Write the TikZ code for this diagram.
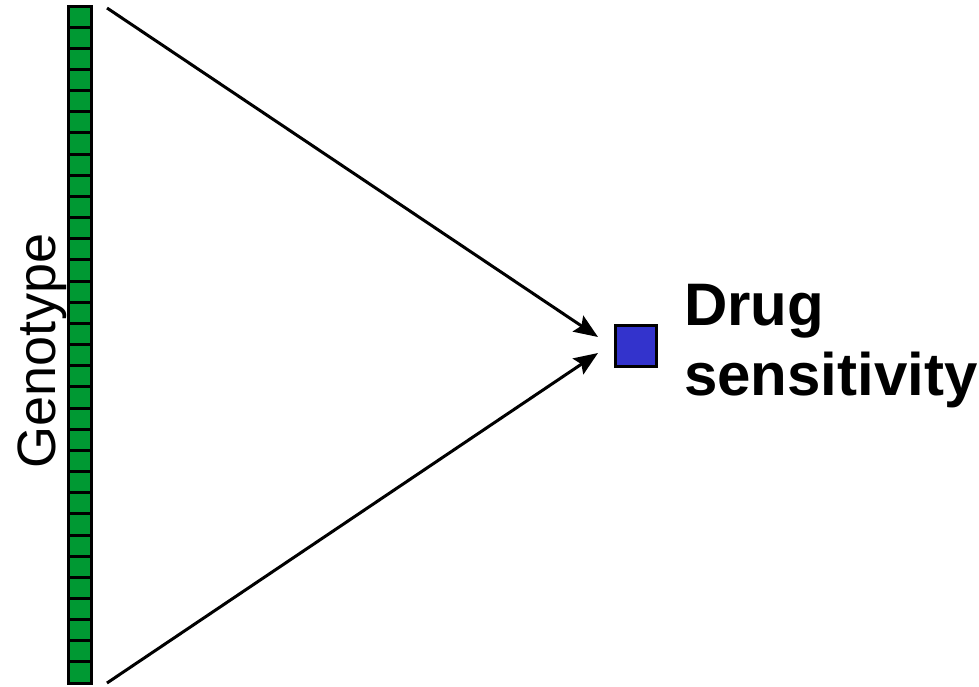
\documentclass[tikz,border=0pt]{standalone}
\usepackage{fontspec}
\setmainfont{Liberation Sans}
\usetikzlibrary{arrows.meta}
\definecolor{genegreen}{HTML}{009933}
\definecolor{drugblue}{HTML}{3333CC}
\begin{document}
\begin{tikzpicture}[x=1pt,y=-1pt,
  cell/.style={draw=black,line width=3pt,fill=genegreen,minimum width=23.5pt,minimum height=21.16pt,inner sep=0pt,anchor=north west,outer sep=0pt},
  link/.style={line width=3pt,-{Stealth[length=24pt,width=19pt,inset=4pt]}},
  outcome/.style={draw=black,line width=3pt,fill=drugblue,minimum width=41pt,minimum height=41pt,inner sep=0pt},
  label/.style={inner sep=0pt,font=\fontsize{60}{70}\selectfont\bfseries,align=left}]
  \useasboundingbox (0,0) rectangle (979,686);
  % genotype column
  \foreach \i in {1,...,32}{
    \node[cell] (c\i) at (68.3,{6+(\i-1)*21.16}) {};
  }
  \node[inner sep=0pt,rotate=90,anchor=base,font=\fontsize{54}{60}\selectfont] (geno) at (55,351) {Genotype};
  % phenotype
  \node[outcome] (drug) at (636,345.5) {};
  \node[label,anchor=base west] (druglabel) at (684,395) {Drug\\sensitivity};
  % connectors
  \coordinate (topstart) at (107,8);
  \coordinate (botstart) at (107,683);
  \coordinate (tiptop) at (598,337);
  \coordinate (tipbot) at (598,353);
  \draw[link] (topstart) -- (tiptop);
  \draw[link] (botstart) -- (tipbot);
\end{tikzpicture}
\end{document}
